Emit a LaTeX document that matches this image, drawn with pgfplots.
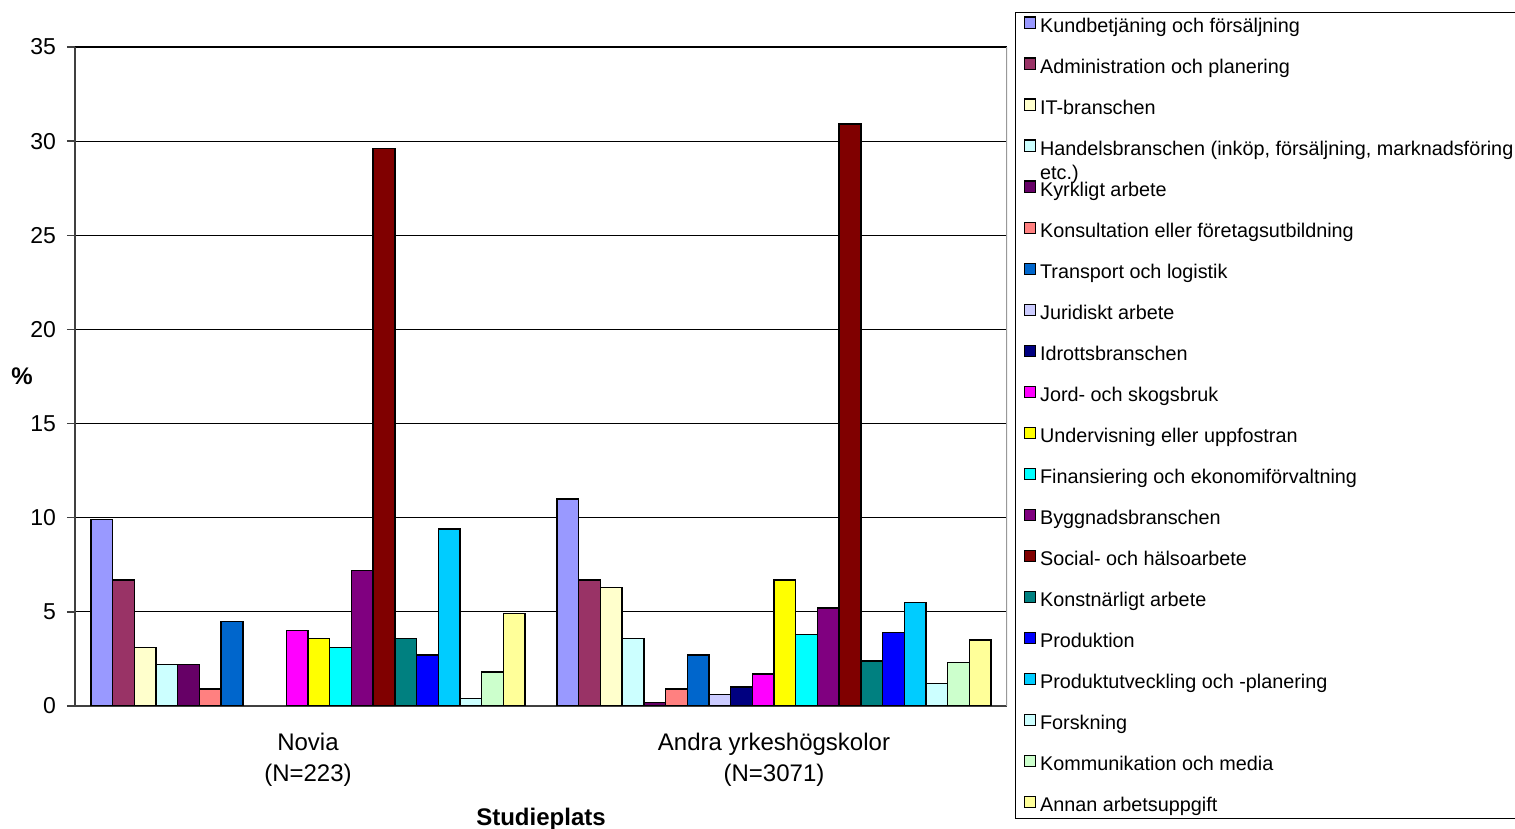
\documentclass[border=0pt]{standalone}
\usepackage{pgfplots}
\pgfplotsset{compat=1.18}
\usepackage{fontspec}
\setmainfont{Liberation Sans}

\definecolor{c1}{HTML}{9999FF}
\definecolor{c2}{HTML}{993366}
\definecolor{c3}{HTML}{FFFFCC}
\definecolor{c4}{HTML}{CCFFFF}
\definecolor{c5}{HTML}{660066}
\definecolor{c6}{HTML}{FF8080}
\definecolor{c7}{HTML}{0066CC}
\definecolor{c8}{HTML}{CCCCFF}
\definecolor{c9}{HTML}{000080}
\definecolor{c10}{HTML}{FF00FF}
\definecolor{c11}{HTML}{FFFF00}
\definecolor{c12}{HTML}{00FFFF}
\definecolor{c13}{HTML}{800080}
\definecolor{c14}{HTML}{800000}
\definecolor{c15}{HTML}{008080}
\definecolor{c16}{HTML}{0000FF}
\definecolor{c17}{HTML}{00CCFF}
\definecolor{c18}{HTML}{CCFFFF}
\definecolor{c19}{HTML}{CCFFCC}
\definecolor{c20}{HTML}{FFFF99}

\pgfplotsset{
  /pgfplots/ybar legend/.style={
    /pgfplots/legend image code/.code={%
      \draw[##1,draw=black,line width=0.6pt] (0pt,-1.2pt) rectangle (5.6pt,4.4pt);}},
}

\begin{document}
\begin{tikzpicture}
\begin{axis}[
  width=466pt, height=329.5pt, scale only axis,
  xmin=-0.5, xmax=1.5, ymin=0, ymax=35,
  ybar=0pt, bar width=10.85pt,
  axis x line*=bottom, axis y line*=left,
  axis line style={draw=black!75, line width=0.7pt},
  ytick={0,5,...,35},
  xtick={0,1},
  xticklabels={Novia\\(N=223), Andra yrkeshögskolor\\(N=3071)},
  xtick style={draw=none},
  extra x ticks={-0.5,0.5,1.5},
  extra x tick labels={},
  extra x tick style={major tick length=4pt, tick style={draw=black!75, line width=0.7pt}},
  tick align=outside,
  major tick length=4pt,
  ytick style={draw=black!75, line width=0.7pt},
  /pgf/number format/assume math mode=true,
  yticklabel style={font=\fontsize{11.5}{13}\selectfont, xshift=-2pt},
  xticklabel style={align=center, font=\fontsize{12}{15.5}\selectfont, yshift=-6pt},
  ymajorgrids,
  grid style={black, line width=0.6pt},
  xlabel={Studieplats},
  xlabel style={font=\bfseries\fontsize{12}{14}\selectfont, at={(rel axis cs:0.5,0)}, anchor=center, yshift=-56.5pt},
  ylabel={\%},
  ylabel style={font=\bfseries\fontsize{12}{14}\selectfont, rotate=-90, at={(rel axis cs:0,0.5)}, anchor=center, xshift=-26.5pt},
  every axis plot/.append style={draw=black, line width=0.7pt},
  legend style={at={(rel axis cs:1,1)}, anchor=north west, xshift=4pt, yshift=17.5pt,
    draw=black, line width=0.7pt, font=\fontsize{9.9}{11}\selectfont,
    inner xsep=4pt, inner ysep=1.75pt, row sep=11.02pt, column sep=0pt,
    nodes={inner ysep=0pt, text height=8pt, text depth=1.5pt}},
  legend cell align=left,
]
\addplot[fill=c1] coordinates {(0,9.9) (1,11.0)};
\addplot[fill=c2] coordinates {(0,6.7) (1,6.7)};
\addplot[fill=c3] coordinates {(0,3.1) (1,6.3)};
\addplot[fill=c4] coordinates {(0,2.2) (1,3.6)};
\addplot[fill=c5] coordinates {(0,2.2) (1,0.2)};
\addplot[fill=c6] coordinates {(0,0.9) (1,0.9)};
\addplot[fill=c7] coordinates {(0,4.5) (1,2.7)};
\addplot[fill=c8] coordinates {(1,0.6)};
\addplot[fill=c9] coordinates {(1,1.0)};
\addplot[fill=c10] coordinates {(0,4.0) (1,1.7)};
\addplot[fill=c11] coordinates {(0,3.6) (1,6.7)};
\addplot[fill=c12] coordinates {(0,3.1) (1,3.8)};
\addplot[fill=c13] coordinates {(0,7.2) (1,5.2)};
\addplot[fill=c14] coordinates {(0,29.6) (1,30.9)};
\addplot[fill=c15] coordinates {(0,3.6) (1,2.4)};
\addplot[fill=c16] coordinates {(0,2.7) (1,3.9)};
\addplot[fill=c17] coordinates {(0,9.4) (1,5.5)};
\addplot[fill=c18] coordinates {(0,0.4) (1,1.2)};
\addplot[fill=c19] coordinates {(0,1.8) (1,2.3)};
\addplot[fill=c20] coordinates {(0,4.9) (1,3.5)};
\legend{
  Kundbetjäning och försäljning,
  Administration och planering,
  IT-branschen,
  {\smash{\rlap{\raisebox{-12pt}{etc.)}}}Handelsbranschen (inköp, försäljning, marknadsföring},
  Kyrkligt arbete,
  Konsultation eller företagsutbildning,
  Transport och logistik,
  Juridiskt arbete,
  Idrottsbranschen,
  Jord- och skogsbruk,
  Undervisning eller uppfostran,
  Finansiering och ekonomiförvaltning,
  Byggnadsbranschen,
  Social- och hälsoarbete,
  Konstnärligt arbete,
  Produktion,
  Produktutveckling och -planering,
  Forskning,
  Kommunikation och media,
  Annan arbetsuppgift}
\draw[black!40, line width=0.7pt] (rel axis cs:1,0) -- (rel axis cs:1,1);
\end{axis}
\pgfresetboundingbox
\path[use as bounding box] (-37.5pt,-61.5pt) rectangle (720pt,353pt);
\end{tikzpicture}
\end{document}
